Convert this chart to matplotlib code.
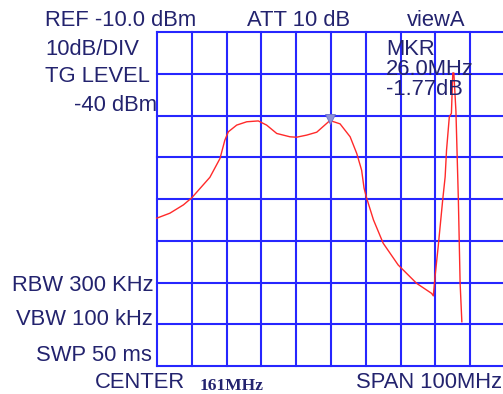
import numpy as np
import matplotlib
matplotlib.use("Agg")
import matplotlib.pyplot as plt

# trace (MHz, dBm)
freq = [110.9, 114.7, 118.6, 121.0, 126.2, 129.1, 130.5, 131.5, 133.9, 136.8,
        140.1, 142.5, 145.4, 149.2, 151.1, 154.0, 156.9, 160.7, 163.6, 166.5,
        168.4, 169.8, 170.5, 171.1, 173.2, 176.0, 180.3, 185.6, 189.9, 190.4,
        190.9, 191.8, 193.1, 193.8, 194.2, 195.0, 195.6, 196.0, 196.3, 196.9,
        197.6, 198.1, 198.6]
level = [-54.6, -53.4, -51.4, -49.7, -44.8, -40.3, -35.9, -33.9, -32.3, -31.5,
         -31.3, -32.3, -34.3, -35.1, -35.2, -34.7, -34.0, -31.2, -32.0, -35.1,
         -39.1, -43.1, -47.4, -49.4, -55.0, -60.6, -65.8, -70.2, -72.6, -73.2,
         -68.6, -61.4, -50.2, -44.7, -38.3, -30.3, -29.5, -19.8, -19.8, -29.0,
         -50.2, -70.1, -79.4]

mkr_freq = 160.7
mkr_level = -30.8

f_start, f_stop = 111, 211
ref, bottom = -10, -90

W, H = 503, 394
txt_col = "#23236e"
grid_col = "#2626ff"

plt.rcParams['font.family'] = ['Liberation Sans', 'DejaVu Sans']

fig = plt.figure(figsize=(W / 100, H / 100), dpi=100)
ax = fig.add_axes([157 / W, 28 / H, 348 / W, 334 / H])
ax.set_xlim(f_start, f_stop)
ax.set_ylim(bottom, ref)
ax.axis("off")

for f in np.arange(f_start, f_stop + 1, 10):
    ax.axvline(f, color=grid_col, lw=1.5, clip_on=False)
for lv in np.arange(bottom, ref + 1, 10):
    ax.axhline(lv, color=grid_col, lw=1.5, clip_on=False)

ax.plot(freq, level, color="#ff2a2a", lw=1.0, clip_on=False)
ax.plot([mkr_freq], [mkr_level], marker="v", ms=7, color="#8a90d8",
        mec="#6a70c8", mew=0.6, clip_on=False)


def label(x, y, s, ha="left", **kw):
    fig.text(x / W, 1 - y / H, s, ha=ha, va="baseline", color=txt_col, **kw)


fs = 15.8
label(45, 26, "REF -10.0 dBm", fontsize=fs)
label(247, 26, "ATT 10 dB", fontsize=fs)
label(407, 26, "viewA", fontsize=fs)
label(45, 55, "10dB/DIV", fontsize=fs)
label(45, 82, "TG LEVEL", fontsize=fs)
label(157, 111, "-40 dBm", ha="right", fontsize=fs)
label(386, 55, "MKR", fontsize=fs)
label(386, 75, "26.0MHz", fontsize=fs)
label(386, 95, "-1.77dB", fontsize=fs)
label(154, 291, "RBW 300 KHz", ha="right", fontsize=fs)
label(153, 325, "VBW 100 kHz", ha="right", fontsize=fs)
label(152, 361, "SWP 50 ms", ha="right", fontsize=fs)
label(95, 388, "CENTER", fontsize=fs)
label(200, 390, "161MHz", fontsize=12.5, family="Liberation Serif", weight="bold")
label(502, 388, "SPAN 100MHz", ha="right", fontsize=fs)

fig.savefig("out.png", dpi=100)
